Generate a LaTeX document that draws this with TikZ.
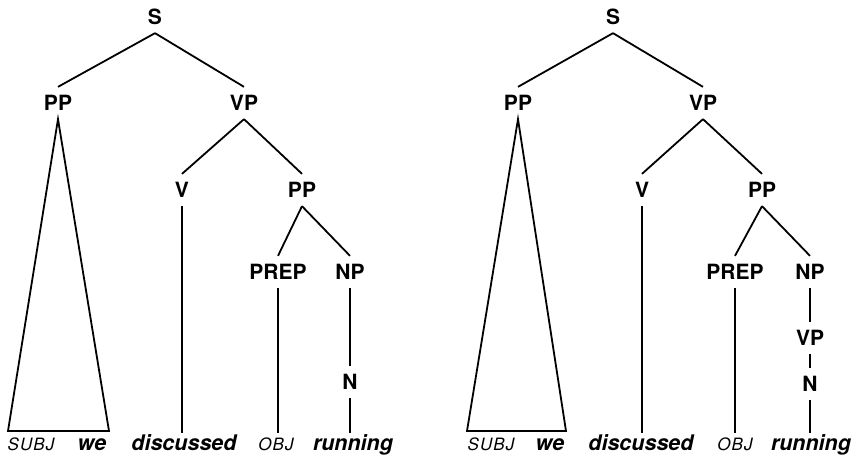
\documentclass[tikz,border=0pt]{standalone}
\usepackage{fontspec}
\setmainfont{TeX Gyre Heros}
\begin{document}
\begin{tikzpicture}[x=1pt,y=-1pt,line width=1.8pt,
  lab/.style={font=\fontsize{21}{24}\selectfont\bfseries, inner xsep=0pt, inner ysep=7.5pt, text height=15.5pt, text depth=0pt},
  word/.style={anchor=base, inner xsep=0pt, inner ysep=1pt, text height=15pt, text depth=4pt, font=\fontsize{21.5}{24}\selectfont\bfseries\itshape},
  sword/.style={anchor=base, inner xsep=0pt, inner ysep=1pt, text height=15pt, text depth=4pt, font=\fontsize{17}{20}\selectfont\itshape\addfontfeatures{LetterSpace=6}}]
\useasboundingbox (0,0) rectangle (857,459);
% ---------- left tree ----------
\node[lab] (aS) at (155,17) {S};
\node[lab] (aPP) at (58,103) {PP};
\node[lab] (aVP) at (244,103) {VP};
\node[lab] (aV) at (182,190) {V};
\node[lab] (aPPb) at (302,190) {PP};
\node[lab] (aPREP) at (278,272) {PREP};
\node[lab] (aNP) at (350,272) {NP};
\node[lab] (aN) at (350,382) {N};
\node[sword] (aSUBJ) at (31,450) {SUBJ};
\node[word] (awe) at (92,450) {we};
\node[word] (adisc) at (184,450) {discussed};
\node[sword] (aOBJ) at (276,450) {OBJ};
\node[word] (arun) at (353,450) {running};
\coordinate (aTL) at (8,431);
\coordinate (aTR) at (109,431);
\draw (aS.south) -- (aPP.north);
\draw (aS.south) -- (aVP.north);
\draw (aTL) -- (aPP.south) -- (aTR) -- cycle;
\draw (aVP.south) -- (aV.north);
\draw (aVP.south) -- (aPPb.north);
\draw (aV.south) -- (aV.south |- adisc.north);
\draw (aPPb.south) -- (aPREP.north);
\draw (aPPb.south) -- (aNP.north);
\draw (aPREP.south) -- (aPREP.south |- aOBJ.north);
\draw (aNP.south) -- (aN.north);
\draw (aN.south) -- (aN.south |- arun.north);
% ---------- right tree ----------
\node[lab] (bS) at (613,17) {S};
\node[lab] (bPP) at (518,103) {PP};
\node[lab] (bVP) at (703,103) {VP};
\node[lab] (bV) at (642,190) {V};
\node[lab] (bPPb) at (762,190) {PP};
\node[lab] (bPREP) at (735,272) {PREP};
\node[lab] (bNP) at (810,272) {NP};
\node[lab] (bVPb) at (810,338) {VP};
\node[lab] (bN) at (810,384) {N};
\node[sword] (bSUBJ) at (491,450) {SUBJ};
\node[word] (bwe) at (550,450) {we};
\node[word] (bdisc) at (641,450) {discussed};
\node[sword] (bOBJ) at (735,450) {OBJ};
\node[word] (brun) at (811,450) {running};
\coordinate (bTL) at (467,431);
\coordinate (bTR) at (566,431);
\draw (bS.south) -- (bPP.north);
\draw (bS.south) -- (bVP.north);
\draw (bTL) -- (bPP.south) -- (bTR) -- cycle;
\draw (bVP.south) -- (bV.north);
\draw (bVP.south) -- (bPPb.north);
\draw (bV.south) -- (bV.south |- bdisc.north);
\draw (bPPb.south) -- (bPREP.north);
\draw (bPPb.south) -- (bNP.north);
\draw (bPREP.south) -- (bPREP.south |- bOBJ.north);
\draw (bNP.south) -- (bVPb.north);
\draw (bVPb.south) -- (bN.north);
\draw (bN.south) -- (bN.south |- brun.north);
\end{tikzpicture}
\end{document}
